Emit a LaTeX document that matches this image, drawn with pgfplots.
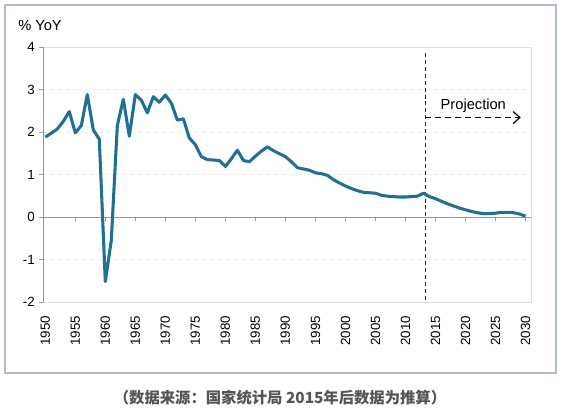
\documentclass[border=0pt]{standalone}
\usepackage{pgfplots}
\pgfplotsset{compat=1.18}
\usepackage{fontspec}
\setmainfont{Liberation Sans}
\newfontfamily\cjk{Noto Sans CJK SC}
\usetikzlibrary{arrows.meta}
\definecolor{linec}{RGB}{31,113,148}
\definecolor{framec}{RGB}{176,190,198}
\definecolor{capc}{RGB}{85,85,85}
\begin{document}
\begin{tikzpicture}
\useasboundingbox (0pt,0pt) rectangle (423pt,309.75pt);
\draw[framec,line width=1.6pt] (3.75pt,30pt) rectangle (417pt,306pt);
\node[font=\fontsize{11}{13}\selectfont] at (30pt,291pt) {\% YoY};
\node[font=\cjk\bfseries\fontsize{11.5}{14}\selectfont,text=capc] at (210pt,11.25pt) {（数据来源：国家统计局 2015年后数据为推算）};
\begin{axis}[
  at={(32.6pt,83.25pt)}, anchor=south west,
  scale only axis, width=365.6pt, height=191.25pt,
  xmin=1949.7, xmax=2030.9, ymin=-2, ymax=4,
  ytick={-2,-1,0,1,2,3,4},
  xtick={1950,1955,...,2030},
  xticklabels={1950,1955,1960,1965,1970,1975,1980,1985,1990,1995,2000,2005,2010,2015,2020,2025,2030},
  /pgf/number format/assume math mode=true,
  ticklabel style={font=\fontsize{10}{12}\selectfont},
  xticklabel style={rotate=90, anchor=east, xshift=-4pt},
  xtick style={draw=none},
  ytick style={draw=gray!80, line width=0.6pt},
  tick align=outside, ytick pos=left, xtick pos=bottom,
  major tick length=3pt,
  axis line style={draw=gray!25, line width=0.6pt},
  ymajorgrids, grid style={draw=gray!15, dashed, line width=0.5pt},
  clip=false,
]
\draw[gray!85, line width=0.7pt] (axis cs:1949.7,-2) -- (axis cs:1949.7,4);
\draw[gray!80, line width=0.7pt] (axis cs:1949.7,0) -- (axis cs:2030.9,0);
\pgfplotsinvokeforeach{1955,1960,...,2030}{
  \draw[gray!80, line width=0.6pt] (axis cs:#1,0) -- ([yshift=-3pt]axis cs:#1,0);
}
\draw[black!85, line width=1.1pt, dash pattern=on 3pt off 2.2pt] (axis cs:2013.3,3.86) -- (axis cs:2013.3,-2);
\draw[black, line width=0.9pt, dash pattern=on 4.5pt off 3pt, -{Straight Barb[length=5pt,width=9pt]}] (axis cs:2013.3,2.34) -- (axis cs:2029.2,2.34);
\node[anchor=base, font=\fontsize{11}{13}\selectfont] at (axis cs:2021.3,2.52) {Projection};
\addplot[color=linec, line width=2.3pt, line join=round, mark=none] coordinates {
(1950,1.88) (1951,1.97) (1952,2.07) (1953,2.25) (1954,2.48) (1955,1.98)
(1956,2.15) (1957,2.88) (1958,2.05) (1959,1.83) (1960,-1.52) (1961,-0.55)
(1962,2.15) (1963,2.77) (1964,1.9) (1965,2.88) (1966,2.75) (1967,2.45)
(1968,2.83) (1969,2.7) (1970,2.87) (1971,2.68) (1972,2.28) (1973,2.31)
(1974,1.86) (1975,1.7) (1976,1.42) (1977,1.35) (1978,1.34) (1979,1.33)
(1980,1.19) (1981,1.37) (1982,1.57) (1983,1.33) (1984,1.3) (1985,1.43)
(1986,1.55) (1987,1.65) (1988,1.56) (1989,1.49) (1990,1.42) (1991,1.3)
(1992,1.16) (1993,1.13) (1994,1.1) (1995,1.04) (1996,1.02) (1997,0.98)
(1998,0.88) (1999,0.8) (2000,0.73) (2001,0.67) (2002,0.62) (2003,0.58)
(2004,0.57) (2005,0.56) (2006,0.51) (2007,0.49) (2008,0.48) (2009,0.47)
(2010,0.47) (2011,0.48) (2012,0.49) (2013,0.56) (2014,0.48) (2015,0.43)
(2016,0.37) (2017,0.31) (2018,0.26) (2019,0.21) (2020,0.17) (2021,0.13)
(2022,0.1) (2023,0.08) (2024,0.08) (2025,0.09) (2026,0.11) (2027,0.11)
(2028,0.1) (2029,0.07) (2030,0.02)
};
\end{axis}
\end{tikzpicture}
\end{document}
